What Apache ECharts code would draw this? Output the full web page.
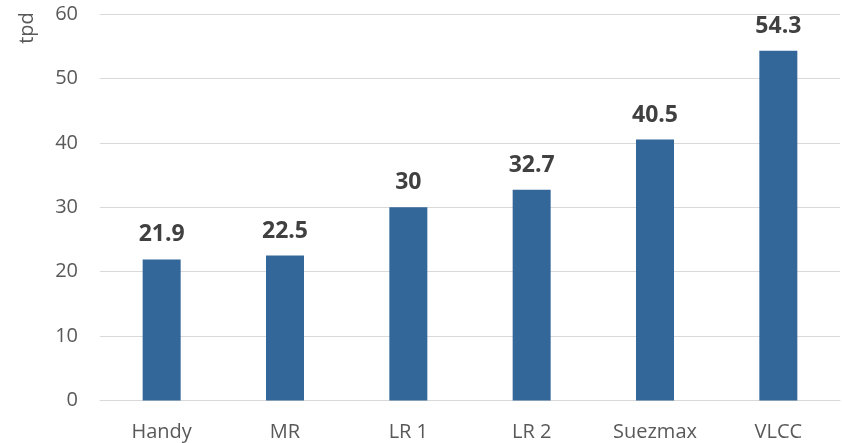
<!DOCTYPE html>
<html>
<head>
<meta charset="utf-8">
<script src="https://cdn.jsdelivr.net/npm/echarts@6/dist/echarts.min.js"></script>
<style>
  html, body { margin: 0; padding: 0; background: #fff; }
  #chart { width: 842px; height: 443px; }
</style>
</head>
<body>
<div id="chart"></div>
<script>
// Vessel classes and their consumption in tonnes per day
const categories = ['Handy', 'MR', 'LR 1', 'LR 2', 'Suezmax', 'VLCC'];
const values = [21.9, 22.5, 30, 32.7, 40.5, 54.3];
const yTicks = { min: 0, max: 60, interval: 10 };
const unitLabel = 'tpd';

const FONT = '"Open Sans", "Noto Sans", sans-serif';
const chart = echarts.init(document.getElementById('chart'), null, { renderer: 'canvas' });

chart.setOption({
  animation: false,
  backgroundColor: '#ffffff',
  grid: { left: 100, right: 2, top: 14, bottom: 42.5, containLabel: false },
  xAxis: {
    type: 'category',
    data: categories,
    axisLine: { show: true, lineStyle: { color: '#d9d9d9', width: 1 } },
    axisTick: { show: false },
    axisLabel: { color: '#595959', fontFamily: FONT, fontSize: 20, margin: 22 }
  },
  yAxis: {
    type: 'value',
    min: yTicks.min,
    max: yTicks.max,
    interval: yTicks.interval,
    axisLine: { show: false },
    axisTick: { show: false },
    axisLabel: { color: '#595959', fontFamily: FONT, fontSize: 20, margin: 22 },
    splitLine: { lineStyle: { color: '#d9d9d9', width: 1 } }
  },
  graphic: [{
    type: 'text',
    x: 27,
    y: 28,
    rotation: Math.PI / 2,
    style: {
      text: unitLabel,
      fill: '#595959',
      font: '20px ' + FONT,
      textAlign: 'center',
      textVerticalAlign: 'middle'
    }
  }],
  series: [{
    type: 'bar',
    data: values,
    barWidth: 38,
    itemStyle: { color: '#336699' },
    label: {
      show: true,
      position: 'top',
      distance: 13,
      color: '#404040',
      fontFamily: FONT,
      fontWeight: 'bold',
      fontSize: 23
    }
  }]
});
</script>
</body>
</html>
